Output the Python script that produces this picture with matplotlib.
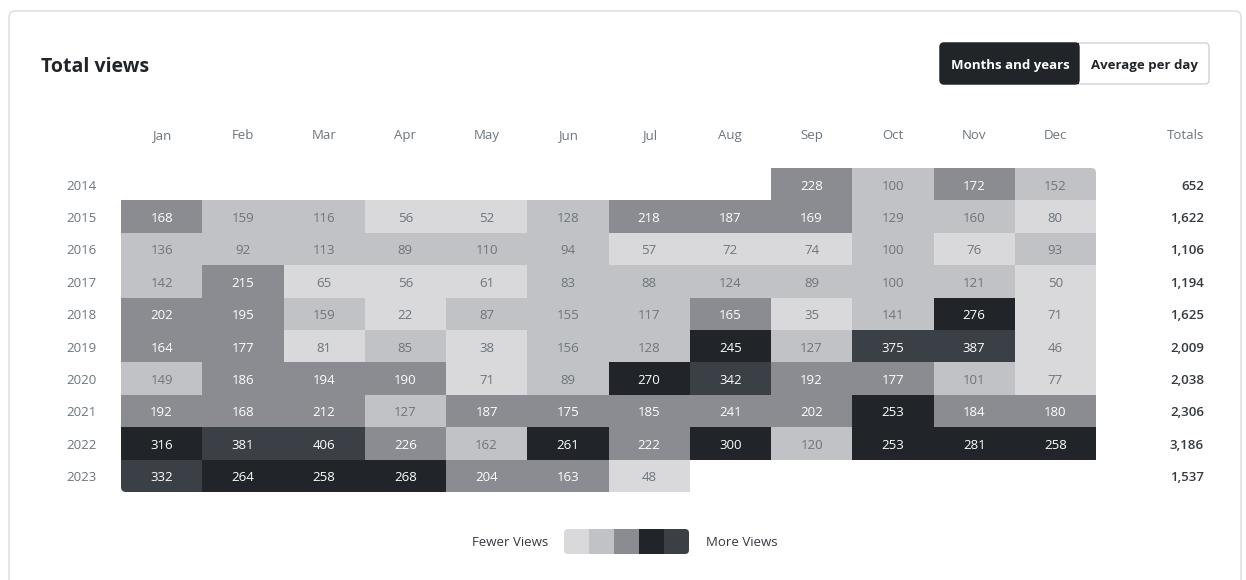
import numpy as np
import matplotlib
matplotlib.use("Agg")
import matplotlib.pyplot as plt
from matplotlib.colors import ListedColormap, BoundaryNorm
from matplotlib.patches import FancyBboxPatch, Rectangle

plt.rcParams['font.family'] = ['Open Sans', 'DejaVu Sans']

months = ["Jan", "Feb", "Mar", "Apr", "May", "Jun",
          "Jul", "Aug", "Sep", "Oct", "Nov", "Dec"]
years = [2014, 2015, 2016, 2017, 2018, 2019, 2020, 2021, 2022, 2023]
nan = np.nan
views = np.array([
    [nan, nan, nan, nan, nan, nan, nan, nan, 228, 100, 172, 152],
    [168, 159, 116, 56, 52, 128, 218, 187, 169, 129, 160, 80],
    [136, 92, 113, 89, 110, 94, 57, 72, 74, 100, 76, 93],
    [142, 215, 65, 56, 61, 83, 88, 124, 89, 100, 121, 50],
    [202, 195, 159, 22, 87, 155, 117, 165, 35, 141, 276, 71],
    [164, 177, 81, 85, 38, 156, 128, 245, 127, 375, 387, 46],
    [149, 186, 194, 190, 71, 89, 270, 342, 192, 177, 101, 77],
    [192, 168, 212, 127, 187, 175, 185, 241, 202, 253, 184, 180],
    [316, 381, 406, 226, 162, 261, 222, 300, 120, 253, 281, 258],
    [332, 264, 258, 268, 204, 163, 48, nan, nan, nan, nan, nan],
])
totals = ["652", "1,622", "1,106", "1,194", "1,625",
          "2,009", "2,038", "2,306", "3,186", "1,537"]

level_colors = ["#d9d9dc", "#c1c2c6", "#8a8c91", "#212529", "#3b3f46"]
level_bounds = [0, 82, 163, 243, 320, 1000]
cmap = ListedColormap(level_colors)
norm = BoundaryNorm(level_bounds, cmap.N)

W, H = 1246, 580
fig = plt.figure(figsize=(W / 100, H / 100), dpi=100)
fig.patch.set_facecolor("white")

# background axes in pixel coords for the card, title, buttons, legend
bg = fig.add_axes([0, 0, 1, 1])
bg.set_xlim(0, W)
bg.set_ylim(H, 0)
bg.axis("off")

bg.add_patch(FancyBboxPatch((9, 11), 1232, 600, boxstyle="round,pad=0,rounding_size=6",
                            fc="white", ec="#dcdcdc", lw=1))
bg.text(41, 67, "Total views", fontsize=14, fontweight="bold", color="#212529",
        ha="left", va="center")

# toggle buttons
bg.add_patch(FancyBboxPatch((940, 43), 269, 41, boxstyle="round,pad=0,rounding_size=4",
                            fc="white", ec="#cfd2d6", lw=1))
bg.add_patch(FancyBboxPatch((940, 43), 139, 41, boxstyle="round,pad=0,rounding_size=4",
                            fc="#212529", ec="#212529", lw=1))
bg.add_patch(Rectangle((1070, 43), 9, 41, fc="#212529", ec="none"))
bg.text(1010, 65.5, "Months and years", fontsize=9.5, fontweight="bold", color="white",
        ha="center", va="center")
bg.text(1144, 65.5, "Average per day", fontsize=9.5, fontweight="bold", color="#212529",
        ha="center", va="center")

# legend
bg.text(548, 543, "Fewer Views", fontsize=9.5, color="#343a40", ha="right", va="center")
bg.text(706, 543, "More Views", fontsize=9.5, color="#343a40", ha="left", va="center")
leg_clip = FancyBboxPatch((564, 529), 125, 25, boxstyle="round,pad=0,rounding_size=4",
                          fc="none", ec="none")
bg.add_patch(leg_clip)
for i, c in enumerate(level_colors):
    r = Rectangle((564 + i * 25, 529), 25, 25, fc=c, ec="none")
    bg.add_patch(r)
    r.set_clip_path(leg_clip)

# heatmap axes
gx0, gy0, gw, gh = 121, 168, 975, 324
ax = fig.add_axes([gx0 / W, 1 - (gy0 + gh) / H, gw / W, gh / H])
ax.set_xlim(0, 12)
ax.set_ylim(10, 0)
ax.axis("off")

mesh = ax.pcolormesh(np.arange(13), np.arange(11), np.ma.masked_invalid(views),
                     cmap=cmap, norm=norm)
aspect = (gw / 12) / (gh / 10)
clip = FancyBboxPatch((0, 0), 12, 10, boxstyle="round,pad=0,rounding_size=0.06",
                      mutation_aspect=aspect, fc="none", ec="none")
ax.add_patch(clip)
mesh.set_clip_path(clip)

ty = 0.56
for r, yr in enumerate(years):
    for c in range(12):
        v = views[r, c]
        if np.isnan(v):
            continue
        dark = v >= level_bounds[2]
        ax.text(c + 0.5, r + ty, "%d" % v, ha="center", va="center", fontsize=9.5,
                color="white" if dark else "#6c757d",
                fontweight="medium" if dark else "normal")
    ax.text(-0.49, r + ty, str(yr), ha="center", va="center", fontsize=9.5,
            color="#6c757d", clip_on=False)
    ax.text(13.33, r + ty, totals[r], ha="right", va="center", fontsize=9.5,
            fontweight="semibold", color="#343a40", clip_on=False)

for c, m in enumerate(months):
    ax.text(c + 0.5, -1.0, m, ha="center", va="center", fontsize=9.5,
            color="#6c757d", clip_on=False)
ax.text(13.33, -1.0, "Totals", ha="right", va="center", fontsize=9.5,
        color="#6c757d", clip_on=False)

fig.savefig("out.png", dpi=100, facecolor="white")
